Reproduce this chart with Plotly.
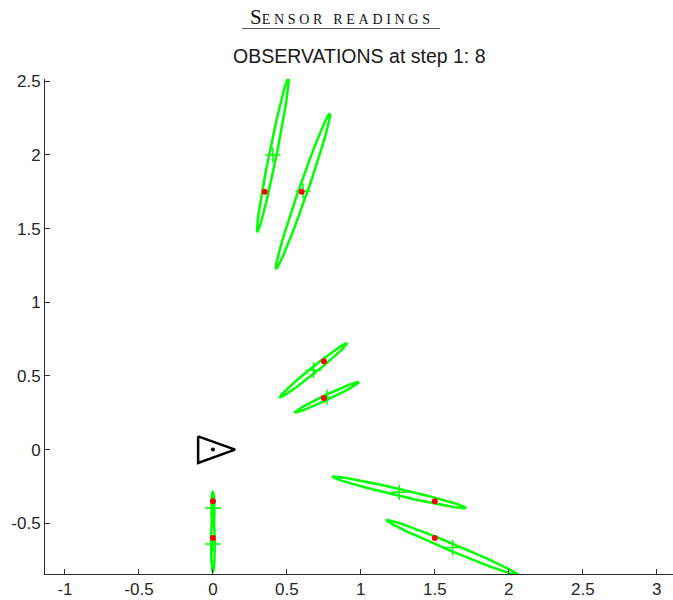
import numpy as np
import plotly.graph_objects as go

# Landmark positions (true)
landmark_x = [0.35, 0.60, 0.75, 0.75, 1.50, 1.50, 0.00, 0.00]
landmark_y = [1.75, 1.75, 0.60, 0.35, -0.35, -0.60, -0.35, -0.60]

# Observed landmark estimates: centre, semi-axes and orientation of each 1-sigma ellipse
obs_x = [0.405, 0.609, 0.680, 0.771, 1.260, 1.620, 0.000, 0.000]
obs_y = [2.000, 1.755, 0.539, 0.356, -0.290, -0.665, -0.397, -0.641]
obs_major = [0.530, 0.556, 0.291, 0.239, 0.462, 0.482, 0.110, 0.190]
obs_minor = [0.025, 0.030, 0.020, 0.017, 0.023, 0.025, 0.011, 0.013]
obs_angle = [78.6, 70.9, 38.9, 25.3, -13.2, -22.8, -90.0, -90.0]

# Robot pose marker (triangle outline in world frame) and position
robot_x = [-0.10, 0.15, -0.10, -0.10]
robot_y = [0.09, 0.00, -0.09, 0.09]
robot_pos = (0.0, 0.0)

x_ticks = [-1, -0.5, 0, 0.5, 1, 1.5, 2, 2.5, 3]
x_tick_text = ["-1", "-0.5", "0", "0.5", "1", "1.5", "2", "2.5", "3"]
y_ticks = [-0.5, 0, 0.5, 1, 1.5, 2, 2.5]
y_tick_text = ["-0.5", "0", "0.5", "1", "1.5", "2", "2.5"]

GREEN = "#00FF00"
AXIS = "#2b2b2b"
SANS = "Liberation Sans, Arial, sans-serif"
SERIF = "Liberation Serif, Times New Roman, serif"

# Build ellipse outlines, separated by None so one trace draws them all
t = np.linspace(0, 2 * np.pi, 120)
ex, ey = [], []
for cx, cy, a, b, ang in zip(obs_x, obs_y, obs_major, obs_minor, obs_angle):
    th = np.deg2rad(ang)
    px = a * np.cos(t)
    py = b * np.sin(t)
    ex += list(cx + px * np.cos(th) - py * np.sin(th)) + [None]
    ey += list(cy + px * np.sin(th) + py * np.cos(th)) + [None]

fig = go.Figure()
fig.add_trace(go.Scatter(x=ex, y=ey, mode="lines",
                         line=dict(color=GREEN, width=2.5), hoverinfo="skip"))
fig.add_trace(go.Scatter(x=obs_x, y=obs_y, mode="markers",
                         marker=dict(symbol="cross-thin", size=11,
                                     line=dict(color=GREEN, width=1.5))))
fig.add_trace(go.Scatter(x=landmark_x, y=landmark_y, mode="markers",
                         marker=dict(color="#FF0000", size=6)))
fig.add_trace(go.Scatter(x=robot_x, y=robot_y, mode="lines",
                         line=dict(color="black", width=2.5)))
fig.add_trace(go.Scatter(x=[robot_pos[0]], y=[robot_pos[1]], mode="markers",
                         marker=dict(color="black", size=4)))

axis_common = dict(showline=True, linecolor=AXIS, linewidth=1,
                   ticks="inside", ticklen=5, tickcolor=AXIS, tickwidth=1,
                   showgrid=False, zeroline=False, mirror=False,
                   tickfont=dict(family=SANS, size=17, color="#262626"))

fig.update_layout(
    width=673, height=600,
    margin=dict(l=45, r=0, t=78.5, b=26),
    paper_bgcolor="white", plot_bgcolor="white",
    showlegend=False,
    xaxis=dict(range=[-1.135, 3.11], tickvals=x_ticks, ticktext=x_tick_text,
               **axis_common),
    yaxis=dict(range=[-0.844, 2.515], tickvals=y_ticks, ticktext=y_tick_text,
               **axis_common),
    annotations=[
        dict(text='S<span style="font-size:14px;letter-spacing:3.7px">ENSOR READINGS</span>',
             xref="paper", yref="paper", x=0.473, y=1.126,
             xanchor="center", yanchor="middle", showarrow=False,
             font=dict(family=SERIF, size=21, color="#111111")),
        dict(text="OBSERVATIONS at step 1: 8",
             xref="paper", yref="paper", x=0.5, y=1.047,
             xanchor="center", yanchor="middle", showarrow=False,
             font=dict(family=SANS, size=19.5, color="#1a1a1a")),
    ],
    shapes=[
        dict(type="line", xref="paper", yref="paper",
             x0=0.3137, x1=0.629, y0=1.102, y1=1.102,
             line=dict(color="#555555", width=1)),
    ],
)

fig.write_html("out.html")
